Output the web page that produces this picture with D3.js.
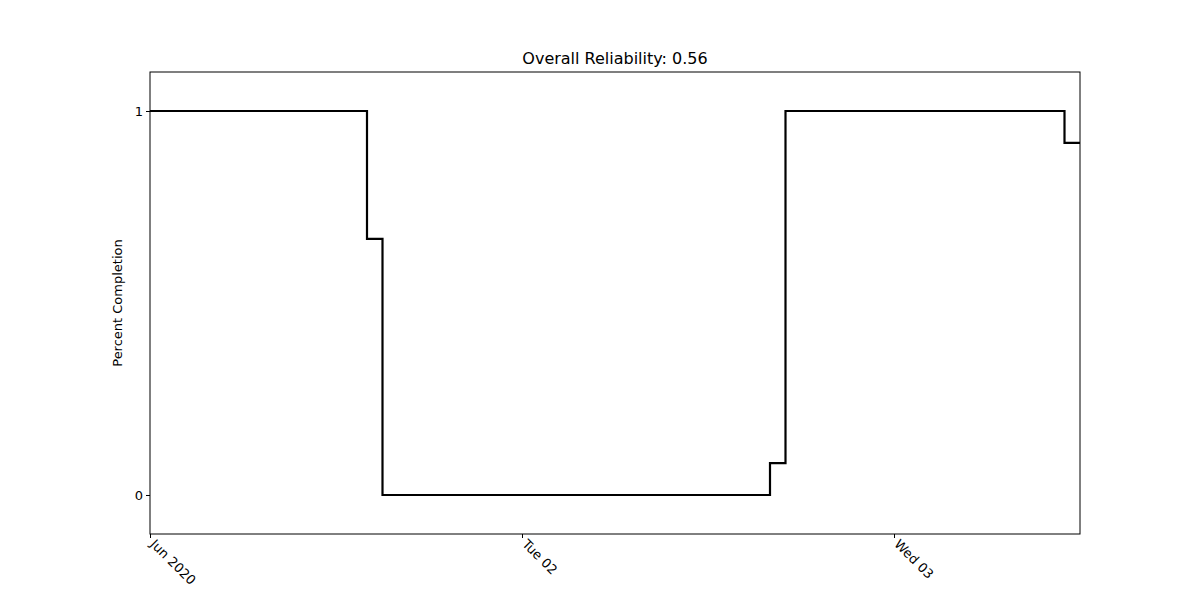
<!DOCTYPE html>
<html>
<head>
<meta charset="utf-8">
<script src="https://cdn.jsdelivr.net/npm/d3@7"></script>
<style>
  body { margin: 0; background: #fff; }
  text { font-family: "DejaVu Sans", sans-serif; }
</style>
</head>
<body>
<svg id="chart" width="1200" height="600"></svg>
<script>
// step start times (hours since Jun 01 2020 00:00) and values
const stepHours = [0, 14, 15, 40, 41, 59, 60];
const stepValues = [1, 0.667, 0, 0.083, 1, 0.917, 0.917];
const yTicks = [0, 1];
const xTickDates = ["2020-06-01T00:00", "2020-06-02T00:00", "2020-06-03T00:00"];
const xTickLabels = ["Jun 2020", "Tue 02", "Wed 03"];
const title = "Overall Reliability: 0.56";

const start = new Date("2020-06-01T00:00");
const data = stepHours.map((h, i) => ({
  t: new Date(start.getTime() + h * 3600e3),
  v: stepValues[i]
}));

const margin = { top: 72, right: 120, bottom: 66, left: 150 };
const width = 1200 - margin.left - margin.right;
const height = 600 - margin.top - margin.bottom;

const svg = d3.select("#chart");
const g = svg.append("g").attr("transform", `translate(${margin.left},${margin.top})`);

const x = d3.scaleTime()
  .domain([start, new Date(start.getTime() + 60 * 3600e3)])
  .range([0, width]);
const y = d3.scaleLinear().domain([-0.1016, 1.1016]).range([height, 0]);

const line = d3.line()
  .x(d => x(d.t))
  .y(d => y(d.v))
  .curve(d3.curveStepAfter);

g.append("path")
  .datum(data)
  .attr("d", line)
  .attr("fill", "none")
  .attr("stroke", "#000")
  .attr("stroke-width", 2.2);

const xAxis = d3.axisBottom(x)
  .tickValues(xTickDates.map(d => new Date(d)))
  .tickFormat((d, i) => xTickLabels[i])
  .tickSizeOuter(0)
  .tickSize(4);
const xg = g.append("g").attr("transform", `translate(0,${height})`).call(xAxis);
xg.selectAll("text")
  .attr("font-size", 13)
  .attr("fill", "#000")
  .attr("text-anchor", "start")
  .attr("dy", 0)
  .attr("transform", "translate(4,6) rotate(45)");

const yg = g.append("g").call(d3.axisLeft(y).tickValues(yTicks).tickFormat(d3.format("d")).tickSizeOuter(0).tickSize(4));
yg.selectAll("text").attr("font-size", 13).attr("fill", "#000");

g.selectAll(".domain").remove();
g.append("rect")
  .attr("width", width).attr("height", height)
  .attr("fill", "none").attr("stroke", "#000").attr("stroke-width", 1);

svg.append("text")
  .attr("x", margin.left + width / 2).attr("y", 64)
  .attr("text-anchor", "middle").attr("font-size", 16)
  .text(title);

svg.append("text")
  .attr("transform", `translate(122,${margin.top + height / 2}) rotate(-90)`)
  .attr("text-anchor", "middle").attr("font-size", 13)
  .text("Percent Completion");
</script>
</body>
</html>
